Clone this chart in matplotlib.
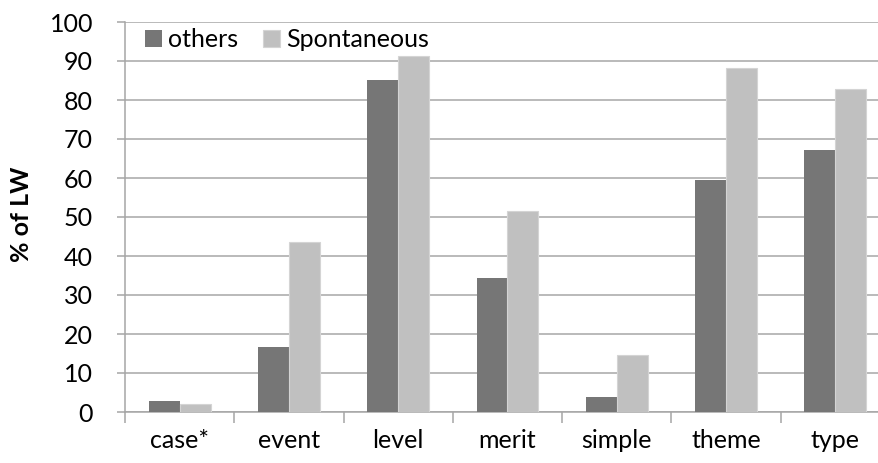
import matplotlib
matplotlib.use("Agg")
import matplotlib.pyplot as plt
import numpy as np

categories = ["case*", "event", "level", "merit", "simple", "theme", "type"]
others = [2.7, 16.7, 85.1, 34.4, 3.9, 59.5, 67.3]
spontaneous = [2.0, 43.6, 91.3, 51.6, 14.6, 88.3, 82.7]
series_names = ["others", "Spontaneous"]
yticks = list(range(0, 101, 10))

plt.rcParams['font.family'] = ['Lato', 'DejaVu Sans']

W, H = 879, 463
fig = plt.figure(figsize=(W / 100, H / 100), dpi=100)
left, right, bottom, top = 125, 890, 412, 22
ax = fig.add_axes([left / W, 1 - bottom / H, (right - left) / W, (bottom - top) / H])

x = np.arange(len(categories))
bw = 0.283
grid_c = "#B4B4B4"
fs = 18
ax.bar(x - bw / 2, others, width=bw, color="#767676", label=series_names[0], zorder=3)
ax.bar(x + bw / 2, spontaneous, width=bw, color="#C0C0C0", edgecolor="#D4D4D4",
       linewidth=0.8, label=series_names[1], zorder=3)

ax.set_xlim(-0.5, len(categories) - 0.5)
ax.set_ylim(0, 100)
ax.set_yticks(yticks)
ax.yaxis.grid(True, color=grid_c, linewidth=1.3, zorder=0)
ax.set_axisbelow(True)

for s in ["top", "right"]:
    ax.spines[s].set_visible(False)
ax.spines["left"].set_color("#A6A6A6")
ax.spines["bottom"].set_color("#A6A6A6")
ax.spines["left"].set_linewidth(1.1)
ax.spines["bottom"].set_linewidth(1.1)

ax.set_xticks(x)
ax.set_xticklabels(categories)
ax.set_xticks(np.arange(len(categories) + 1) - 0.5, minor=True)
ax.tick_params(axis="x", which="major", length=0, pad=12, labelsize=fs, colors="black")
ax.tick_params(axis="x", which="minor", length=8, width=1.1, color="#A6A6A6")
ax.tick_params(axis="y", which="major", length=6, width=1.1, color="#A6A6A6",
               labelsize=fs, pad=17, labelcolor="black")

fig.text(22 / W, 1 - 214 / H, "% of LW", rotation=90, fontsize=fs, fontweight="bold",
         ha="center", va="center")

leg = ax.legend(loc="upper left", ncol=2, frameon=False, fontsize=fs,
                handlelength=0.68, handleheight=0.68, handletextpad=0.25,
                columnspacing=1.0, bbox_to_anchor=(0.0, 1.035), borderaxespad=0.4)

fig.savefig("out.png", dpi=100)
